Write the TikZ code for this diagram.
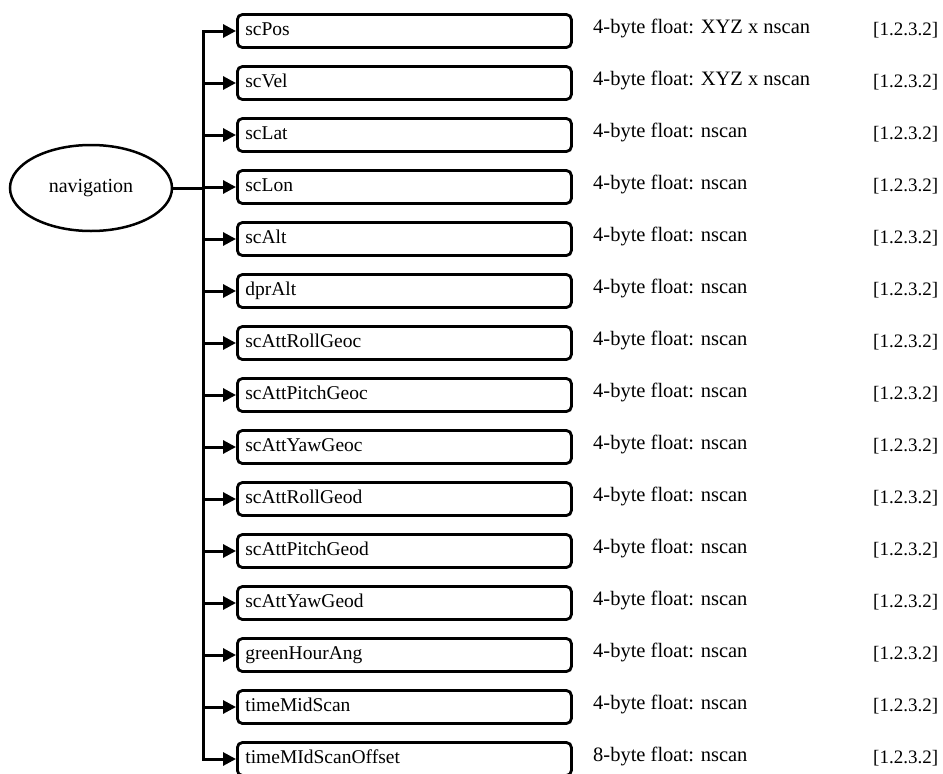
\documentclass[tikz,border=0pt]{standalone}
\usepackage{fontspec}
\setmainfont{Liberation Serif}
\usetikzlibrary{arrows.meta,shapes.geometric}
\newcommand\mydescfont{\fontsize{20.5}{22}\selectfont}
\begin{document}
\begin{tikzpicture}[x=1pt,y=-1pt,
  field/.style={draw,line width=2.8pt,rounded corners=5pt,minimum width=334pt,minimum height=33pt,
    text width=318pt,align=left,inner sep=0pt,font=\fontsize{19.5}{22}\selectfont,anchor=west},
  desc/.style={anchor=west,inner sep=0pt,font=\mydescfont},
  ref/.style={anchor=west,inner sep=0pt,font=\fontsize{19}{22}\selectfont},
  root/.style={draw,ellipse,line width=2.5pt,minimum width=162pt,minimum height=86pt,inner sep=0pt,font=\fontsize{20}{22}\selectfont},
  conn/.style={line width=3pt},
  arr/.style={line width=3pt,-{Triangle[length=13pt,width=13pt]}}]
\useasboundingbox (0,0) rectangle (943,774);
\node[root] (nav) at (91,188) {navigation};
\coordinate (vtop) at (203,31);
\coordinate (vbot) at (203,759);
\coordinate (vmid) at (203,188);
\draw[conn,line cap=rect] (vtop) -- (vbot);
\draw[conn] (nav.east) -- (vmid);
\foreach \name/\ty [count=\i from 0] in {scPos/4-byte float: XYZ x nscan,scVel/4-byte float: XYZ x nscan,scLat/4-byte float: nscan,scLon/4-byte float: nscan,scAlt/4-byte float: nscan,dprAlt/4-byte float: nscan,scAttRollGeoc/4-byte float: nscan,scAttPitchGeoc/4-byte float: nscan,scAttYawGeoc/4-byte float: nscan,scAttRollGeod/4-byte float: nscan,scAttPitchGeod/4-byte float: nscan,scAttYawGeod/4-byte float: nscan,greenHourAng/4-byte float: nscan,timeMidScan/4-byte float: nscan,timeMIdScanOffset/8-byte float: nscan}{
  \pgfmathsetmacro{\yy}{31+52*\i}
  \node[field] (f\i) at (236,\yy) {\strut\name};
  \node[desc] (d\i) at (593,\yy-3) {\ty};
  \node[ref] (r\i) at (873,\yy-1) {[1.2.3.2]};
  \coordinate (b\i) at (203,\yy);
  \draw[arr] (b\i) -- (f\i.west);
}
\end{tikzpicture}
\end{document}
